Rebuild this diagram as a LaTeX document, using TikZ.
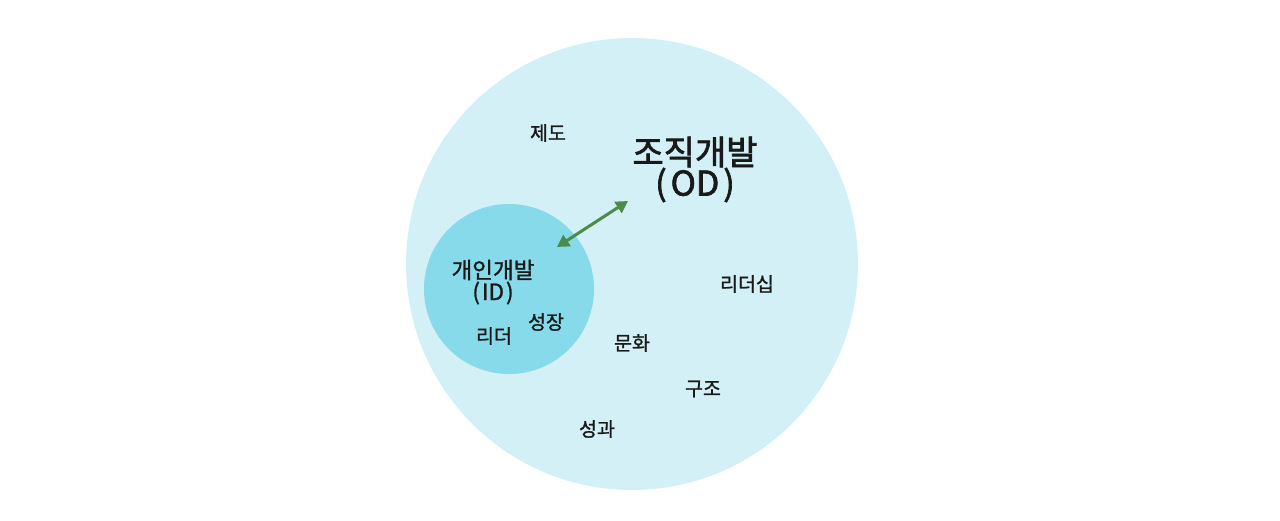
\documentclass[tikz,border=0pt]{standalone}
\usepackage{fontspec}
\setmainfont{Noto Sans CJK KR}
\newfontfamily\medfont{Noto Sans CJK KR}[FakeBold=1.2]
\newfontfamily\heavyfont{Noto Sans CJK KR}[FakeBold=2]
\usetikzlibrary{arrows.meta}
\definecolor{bigc}{HTML}{D3F0F6}
\definecolor{smallc}{HTML}{86DAEA}
\definecolor{arrg}{HTML}{4C8B4A}
\tikzset{
  lbl/.style={inner sep=0pt, font=\medfont\fontsize{19.5}{21}\selectfont, text=black!90},
  midlbl/.style={inner sep=0pt, font=\medfont\fontsize{22.5}{24}\selectfont, text=black!90, align=center},
  biglbl/.style={inner sep=0pt, font=\heavyfont\fontsize{34}{36}\selectfont, text=black!90, align=center},
  dblarrow/.style={draw=arrg, line width=3pt, {Triangle[length=12pt,width=13pt]}-{Triangle[length=12pt,width=13pt]}}
}
\begin{document}
\begin{tikzpicture}[x=1pt,y=-1pt]
\useasboundingbox (0,0) rectangle (1280,520);
\fill[bigc] (632,264) circle (226);
\fill[smallc] (509,289) circle (85);
\node[lbl] (jedo) at (548,133) {제도};
\node[biglbl] (od1) at (695,152) {조직개발};
\node[biglbl] (od2) at (695,185) {(\kern4pt OD\kern4pt)};
\node[midlbl] (id1) at (493,270) {개인개발};
\node[midlbl] (id2) at (493,293) {(\kern2pt ID\kern2pt)};
\node[lbl] (seong) at (546,322) {성장};
\node[lbl] (rider) at (494,336) {리더};
\node[lbl] (ridership) at (747,284) {리더십};
\node[lbl] (munhwa) at (632,343) {문화};
\node[lbl] (gujo) at (703,389) {구조};
\node[lbl] (seonggwa) at (597,429) {성과};
\coordinate (aS) at (557,247);
\coordinate (aE) at (628,201);
\draw[dblarrow] (aS) -- (aE);
\end{tikzpicture}
\end{document}
